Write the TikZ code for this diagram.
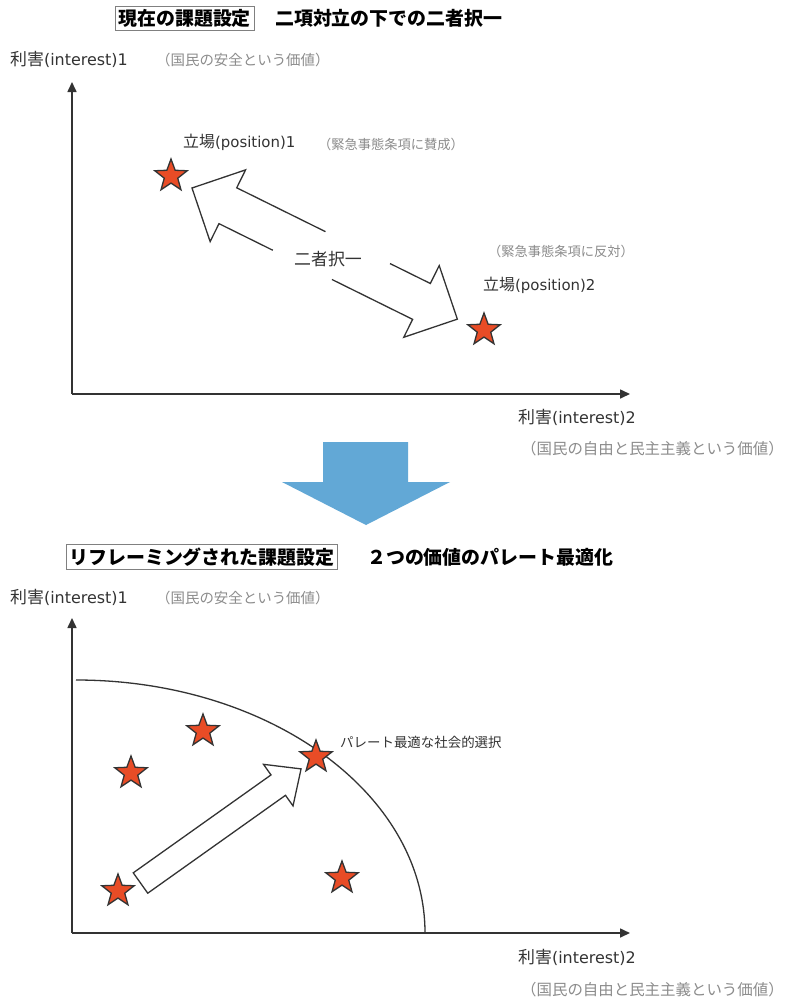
\documentclass[tikz,border=0pt]{standalone}
\usepackage{fontspec}
\newfontfamily\jp{Noto Sans CJK JP}
\newfontfamily\lat{DejaVu Sans}
\usetikzlibrary{shapes.geometric,arrows.meta}
\definecolor{starfill}{RGB}{232,76,38}
\definecolor{bluearrow}{RGB}{98,168,214}
\definecolor{ink}{RGB}{51,51,51}
\definecolor{notegray}{RGB}{140,140,140}
\tikzset{
  x=1bp, y=-1bp,
  axisline/.style={draw=ink, line width=1.6bp, -{Triangle[length=10bp,width=9bp]}},
  lbl/.style={font=\jp\fontsize{17}{19}\selectfont, text=ink, anchor=west, inner sep=0},
  poslbl/.style={font=\jp\fontsize{16}{18}\selectfont, text=ink, anchor=west, inner sep=0},
  notetxt/.style={font=\jp\fontsize{14.5}{16}\selectfont, text=notegray, anchor=west, inner sep=0},
  widenote/.style={notetxt, font=\jp\fontsize{15.5}{17}\selectfont},
  smallnote/.style={notetxt, font=\jp\fontsize{13.3}{15}\selectfont},
  ttl/.style={font=\jp\bfseries\fontsize{19}{21}\selectfont, text=black, anchor=west, inner sep=0},
  ttlbox/.style={ttl, draw=gray, line width=0.8bp, inner sep=3bp},
  starnode/.style={star, star points=5, star point ratio=2.4, minimum size=34bp, inner sep=0, fill=starfill, draw=ink, line width=1.3bp},
  hollow/.style={draw=ink, line width=1.3bp, line join=miter},
}
\begin{document}
\begin{tikzpicture}
\useasboundingbox (0,0) rectangle (785,999);
\fill[white] (0,0) rectangle (785,999);

% ---------- top part ----------
\node[ttlbox] (t1a) at (115,18) {現在の課題設定};
\node[ttl] (t1b) at (275,18) {二項対立の下での二者択一};

\node[lbl] (ya1) at (10,59) {利害{\lat\fontsize{16}{18}\selectfont(interest)1}};
\node[notetxt] (yn1) at (156,60) {（国民の安全という価値）};

\coordinate (o1) at (72,394);
\coordinate (yt1) at (72,82);
\coordinate (xt1) at (630,394);
\draw[axisline] (o1) -- (yt1);
\draw[axisline] (o1) -- (xt1);

\node[lbl] (xa1) at (518,417) {利害{\lat\fontsize{16}{18}\selectfont(interest)2}};
\node[widenote] (xn1) at (521,449) {（国民の自由と民主主義という価値）};

\node[starnode] (s1) at (171,176) {};
\node[starnode] (s2) at (484,330) {};

\node[poslbl] (p1) at (183,142) {立場{\lat\fontsize{15}{17}\selectfont(position)1}};
\node[smallnote] (p1n) at (318,144) {（緊急事態条項に賛成）};
\node[smallnote] (p2n) at (488,251) {（緊急事態条項に反対）};
\node[poslbl] (p2) at (483,285) {立場{\lat\fontsize{15}{17}\selectfont(position)2}};

\begin{scope}[shift={(192,188)}, rotate=-26.3]
  \draw[hollow] (139,-20) -- (40,-20) -- (40,-40) -- (0,0) -- (40,40) -- (40,20) -- (100,20);
  \draw[hollow] (211,-20) -- (256,-20) -- (256,-40) -- (296,0) -- (256,40) -- (256,20) -- (166,20);
\end{scope}
\node[font=\jp\fontsize{17}{19}\selectfont, text=ink, inner sep=0] (choice) at (328,259) {二者択一};

% ---------- blue arrow ----------
\fill[bluearrow] (323,442) -- (408,442) -- (408,482) -- (450,482) -- (366,525) -- (282,482) -- (323,482) -- cycle;

% ---------- bottom part ----------
\node[ttlbox] (t2a) at (66,557) {リフレーミングされた課題設定};
\node[ttl] (t2b) at (367,557) {２つの価値のパレート最適化};

\node[lbl] (ya2) at (10,597) {利害{\lat\fontsize{16}{18}\selectfont(interest)1}};
\node[notetxt] (yn2) at (156,598) {（国民の安全という価値）};

\coordinate (o2) at (72,933);
\coordinate (yt2) at (72,618);
\coordinate (xt2) at (630,933);
\draw[axisline] (o2) -- (yt2);
\draw[axisline] (o2) -- (xt2);

\node[lbl] (xa2) at (518,957) {利害{\lat\fontsize{16}{18}\selectfont(interest)2}};
\node[widenote] (xn2) at (521,990) {（国民の自由と民主主義という価値）};

\coordinate (fs) at (76,680);
\draw[ink, line width=1.3bp] (fs) arc[start angle=90, end angle=0, x radius=349bp, y radius=253bp];

\begin{scope}[shift={(140.5,883)}, rotate=35.4]
  \draw[hollow, fill=white] (0,12.5) -- (169,12.5) -- (169,25.5) -- (197,0) -- (169,-25.5) -- (169,-12.5) -- (0,-12.5) -- cycle;
\end{scope}

\node[starnode] (b1) at (203,731) {};
\node[starnode] (b2) at (131,773) {};
\node[starnode] (b3) at (316,757) {};
\node[starnode] (b4) at (118,891) {};
\node[starnode] (b5) at (342,878) {};

\node[font=\jp\fontsize{13.5}{15}\selectfont, text=ink, anchor=west, inner sep=0] (pareto) at (340,742) {パレート最適な社会的選択};
\end{tikzpicture}
\end{document}
